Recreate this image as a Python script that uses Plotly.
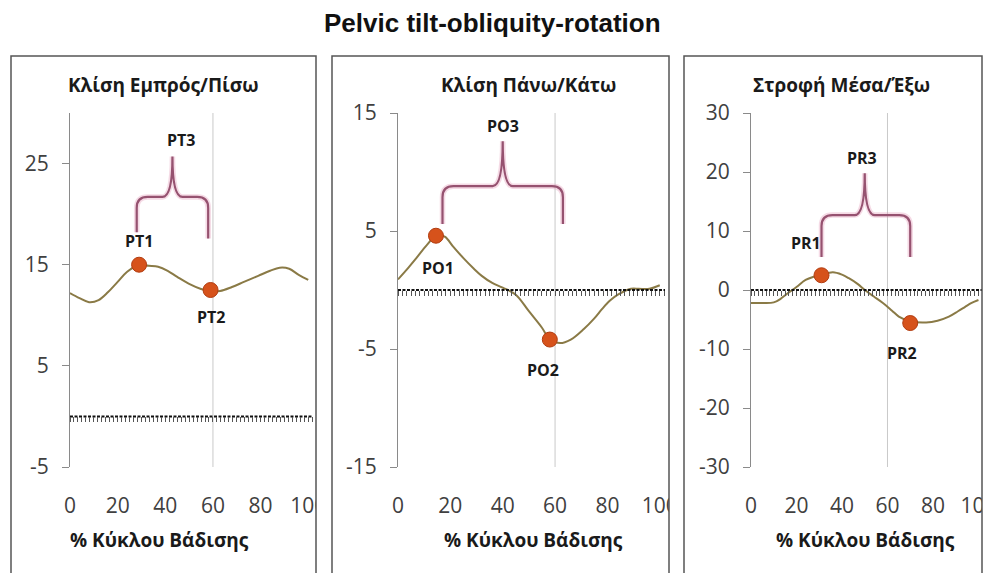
import plotly.graph_objects as go

# ---------------- data ----------------
TITLE = "Pelvic tilt-obliquity-rotation"
PANEL_TITLES = ["Κλίση Εμπρός/Πίσω", "Κλίση Πάνω/Κάτω", "Στροφή Μέσα/Έξω"]
X_TITLE = "% Κύκλου Βάδισης"
X_TICKS = [0, 20, 40, 60, 80, 100]
TOE_OFF = 60

tilt_x = [0, 4, 8, 12, 16, 20, 24, 29, 33, 37, 41, 45, 50, 55, 59, 63, 68, 73, 79, 84, 88, 92, 96, 100]
tilt_y = [12.2, 11.7, 11.3, 11.5, 12.3, 13.3, 14.3, 15.0, 14.9, 14.8, 14.4, 13.8, 13.1, 12.6, 12.4, 12.4, 12.8, 13.3, 13.9, 14.4, 14.7, 14.6, 14.0, 13.5]

obl_x = [0, 4, 7, 11, 15, 18, 21, 25, 29, 32, 36, 40, 45, 50, 55, 58, 62, 66, 71, 75, 78, 81, 84, 89, 92, 96, 100]
obl_y = [0.9, 1.9, 2.7, 3.8, 4.7, 4.5, 3.7, 2.7, 1.8, 1.2, 0.6, 0.2, -0.4, -1.8, -3.2, -4.2, -4.5, -4.2, -3.3, -2.4, -1.6, -0.9, -0.4, 0.1, 0.1, 0.1, 0.4]

rot_x = [0, 5, 10, 13, 16, 20, 24, 28, 31, 36, 40, 43, 47, 50, 54, 58, 62, 65, 70, 77, 82, 87, 91, 94, 97, 100]
rot_y = [-2.2, -2.2, -2.1, -1.5, -0.6, 0.5, 1.7, 2.3, 2.6, 3.0, 2.6, 2.0, 1.0, 0.0, -1.1, -2.2, -3.5, -4.5, -5.3, -5.5, -5.2, -4.5, -3.6, -2.9, -2.2, -1.7]

# key events: (x, y) per panel
events_x = [[29, 59], [14.5, 58], [31, 70]]
events_y = [[15.0, 12.5], [4.6, -4.2], [2.5, -5.6]]
event_names = [["PT1", "PT2"], ["PO1", "PO2"], ["PR1", "PR2"]]
event_label_x = [[29, 59], [15.3, 55.5], [24, 66.5]]
event_label_y = [[17.3, 9.8], [1.9, -6.8], [8.0, -10.6]]

# braces: left x, right x, left bottom y, right bottom y, horizontal y, tip x, tip y
brace_names = ["PT3", "PO3", "PR3"]
brace_left = [28, 17, 31]
brace_right = [58, 63, 70]
brace_left_bottom = [18.2, 5.6, 5.6]
brace_right_bottom = [17.6, 5.6, 5.6]
brace_mid = [21.7, 8.8, 12.7]
brace_tip_x = [43, 40, 50]
brace_tip_y = [25.7, 12.6, 19.8]
brace_label_x = [46.5, 40, 49]
brace_label_y = [27.3, 13.9, 22.4]

y_ranges = [[-5, 30], [-15, 15], [-30, 30]]
y_ticks = [[-5, 5, 15, 25], [-15, -5, 5, 15], [-30, -20, -10, 0, 10, 20, 30]]
X_RANGE = [0, 102]

series_x = [tilt_x, obl_x, rot_x]
series_y = [tilt_y, obl_y, rot_y]

# ---------------- layout geometry ----------------
W, H = 984, 573
plot_left_px = [70, 398, 751]
plot_right_px = [313, 665, 983]
plot_top_px, plot_bot_px = 113, 467
box_left_px = [11, 332, 684]
box_right_px = [316, 669, 982]
box_top_px = 56
panel_title_cx = [163, 528, 841]
x_title_cx = [159, 533, 865]

def px(xp):
    return xp / W

def py(yp):
    return 1 - yp / H

CURVE = "#8a7a46"
MARK = "#d6521b"
MARK_EDGE = "#b23c10"
BRACE = "#965270"
TXT = "#1a1a1a"
TICK_TXT = "#404040"
AX = "#8a8a8a"
FONT = "Open Sans"

fig = go.Figure()
layout = dict(
    width=W, height=H, margin=dict(l=0, r=0, t=0, b=0, pad=0, autoexpand=False),
    paper_bgcolor="white", plot_bgcolor="rgba(0,0,0,0)",
    showlegend=False, autosize=False,
)
shapes = []
annotations = []

ydom = [py(plot_bot_px), py(plot_top_px)]

for i in range(3):
    n = i + 1
    xs = "" if n == 1 else str(n)
    xa, ya = "x" + xs, "y" + xs
    hatch_n = n + 3
    xdom = [px(plot_left_px[i]), px(plot_right_px[i])]

    layout["xaxis" + xs] = dict(
        domain=xdom, range=X_RANGE, anchor=ya, showline=False, showgrid=False,
        zeroline=False, ticks="", tickvals=X_TICKS, ticktext=[str(v) for v in X_TICKS],
        ticklabelstandoff=24, automargin=False, ticklabeloverflow="allow",
        tickfont=dict(family=FONT, size=21, color=TICK_TXT), fixedrange=True,
    )
    layout["yaxis" + xs] = dict(
        domain=ydom, range=y_ranges[i], anchor=xa, showline=True, linecolor=AX,
        linewidth=1, showgrid=False, zeroline=False, ticks="outside", ticklen=7,
        tickcolor=AX, tickvals=y_ticks[i], ticktext=[str(v) for v in y_ticks[i]],
        ticklabelstandoff=9, automargin=False, ticklabeloverflow="allow",
        tickfont=dict(family=FONT, size=21, color=TICK_TXT), fixedrange=True,
    )
    # hatch axis positioned at y = 0
    yr = y_ranges[i]
    zero_frac = ydom[0] + (0 - yr[0]) / (yr[1] - yr[0]) * (ydom[1] - ydom[0])
    layout["xaxis" + str(hatch_n)] = dict(
        overlaying=xa, anchor="free", position=zero_frac, range=X_RANGE,
        showline=False, showgrid=False, zeroline=False, ticks="outside",
        ticklen=5, tickwidth=1, tickcolor="#555555", dtick=100 / 60,
        tick0=0, showticklabels=False, fixedrange=True, automargin=False,
    )

    # dotted zero line
    fig.add_trace(go.Scatter(
        x=X_RANGE, y=[0, 0], xaxis="x" + str(hatch_n), yaxis=ya, mode="lines",
        line=dict(color="#111111", width=2, dash="3px,1.5px"), hoverinfo="skip",
    ))
    # toe-off line
    shapes.append(dict(type="line", xref=xa, yref=ya + " domain", x0=TOE_OFF, x1=TOE_OFF,
                       y0=0, y1=1, line=dict(color="#c9c9c9", width=1), layer="below"))
    # curve
    fig.add_trace(go.Scatter(
        x=series_x[i], y=series_y[i], xaxis=xa, yaxis=ya, mode="lines",
        line=dict(color=CURVE, width=2, shape="spline", smoothing=1.0),
    ))
    # event markers
    fig.add_trace(go.Scatter(
        x=events_x[i], y=events_y[i], xaxis=xa, yaxis=ya, mode="markers",
        marker=dict(size=15, color=MARK, line=dict(color=MARK_EDGE, width=1)),
    ))
    for name, lx, ly in zip(event_names[i], event_label_x[i], event_label_y[i]):
        annotations.append(dict(x=lx, y=ly, xref=xa, yref=ya, text="<b>%s</b>" % name,
                                showarrow=False, xanchor="center", yanchor="middle",
                                font=dict(family=FONT, size=16, color=TXT)))

    # brace
    ppx = (plot_right_px[i] - plot_left_px[i]) / (X_RANGE[1] - X_RANGE[0])
    ppy = (plot_bot_px - plot_top_px) / (yr[1] - yr[0])
    rx, ry = 11 / ppx, 11 / ppy
    cdx = 10 / ppx
    x0, x1 = brace_left[i], brace_right[i]
    yb0, yb1, yh = brace_left_bottom[i], brace_right_bottom[i], brace_mid[i]
    xm, yt = brace_tip_x[i], brace_tip_y[i]
    path = (
        f"M {x0},{yb0} L {x0},{yh - ry} Q {x0},{yh} {x0 + rx},{yh} L {xm - cdx},{yh} Q {xm},{yh} {xm},{yt} "
        f"M {x1},{yb1} L {x1},{yh - ry} Q {x1},{yh} {x1 - rx},{yh} L {xm + cdx},{yh} Q {xm},{yh} {xm},{yt}"
    )
    shapes.append(dict(type="path", path=path, xref=xa, yref=ya,
                       line=dict(color="rgba(225,150,180,0.35)", width=5.5)))
    shapes.append(dict(type="path", path=path, xref=xa, yref=ya,
                       line=dict(color=BRACE, width=2.2)))
    annotations.append(dict(x=brace_label_x[i], y=brace_label_y[i], xref=xa, yref=ya,
                            text="<b>%s</b>" % brace_names[i], showarrow=False,
                            xanchor="center", yanchor="middle",
                            font=dict(family=FONT, size=16, color=TXT)))

    # panel titles
    annotations.append(dict(x=px(panel_title_cx[i]), y=py(85), xref="paper", yref="paper",
                            text="<b>%s</b>" % PANEL_TITLES[i], showarrow=False,
                            xanchor="center", yanchor="middle",
                            font=dict(family=FONT, size=19, color=TXT)))
    annotations.append(dict(x=px(x_title_cx[i]), y=py(540), xref="paper", yref="paper",
                            text="<b>%s</b>" % X_TITLE, showarrow=False,
                            xanchor="center", yanchor="middle",
                            font=dict(family=FONT, size=19, color=TXT)))

# white gaps between panels (clip overflowing labels) and panel borders
gap_edges = [(box_right_px[0], box_left_px[1]), (box_right_px[1], box_left_px[2]), (box_right_px[2], W)]
for a, b in gap_edges:
    shapes.append(dict(type="rect", xref="paper", yref="paper", x0=px(a), x1=px(b),
                       y0=0, y1=py(box_top_px), fillcolor="white", line=dict(width=0), layer="above"))
for i in range(3):
    shapes.append(dict(type="rect", xref="paper", yref="paper", x0=px(box_left_px[i]),
                       x1=px(box_right_px[i]), y0=py(H + 5), y1=py(box_top_px),
                       fillcolor="rgba(0,0,0,0)", line=dict(color="#555555", width=1.5), layer="above"))

annotations.append(dict(x=0.5, y=py(23), xref="paper", yref="paper", text="<b>%s</b>" % TITLE,
                        showarrow=False, xanchor="center", yanchor="middle",
                        font=dict(family="Liberation Sans", size=26, color="#111111")))

layout["shapes"] = shapes
layout["annotations"] = annotations
fig.update_layout(**layout)
fig.write_html("out.html", config={"displayModeBar": False},
               post_script="document.body.style.margin='0';")
